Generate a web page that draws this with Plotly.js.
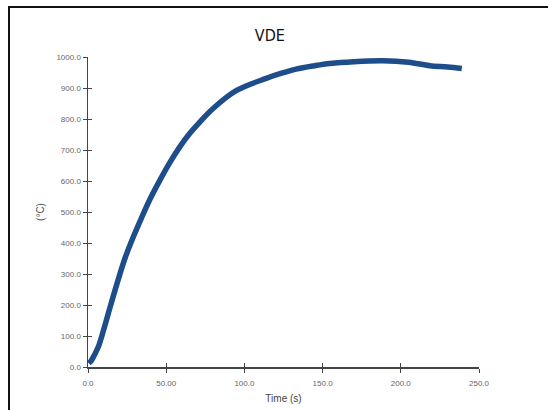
<!DOCTYPE html>
<html>
<head>
<meta charset="utf-8">
<script src="https://cdn.plot.ly/plotly-3.0.1.min.js"></script>
<style>
  html, body { margin: 0; padding: 0; background: #fff; }
  #wrap { position: relative; width: 548px; height: 410px; overflow: hidden; }
  #plot { position: absolute; left: 0; top: 0; width: 548px; height: 410px; }
  #frame { position: absolute; left: 8px; top: 6px; width: 560px; height: 420px;
           border-left: 2px solid #111; border-top: 2px solid #111; pointer-events: none; }
</style>
</head>
<body>
<div id="wrap">
  <div id="plot"></div>
  <div id="frame"></div>
</div>
<script>
// Data
const timeS = [0.5, 2, 4, 6.6, 10, 13, 18.3, 23.6, 29, 34.3, 40, 46, 52, 58.8, 65, 71.6, 80, 95, 114, 122.7, 133, 145, 154.6, 170, 188.5, 205, 218.5, 230, 239];
const tempC = [12, 20, 38, 65, 120, 173, 265, 350, 420, 482, 545, 603, 657, 711, 753, 791, 834, 892, 931, 946, 961, 972, 979, 985, 988, 983, 972, 968, 963];

const xTickVals = [0, 50, 100, 150, 200, 250];
const xTickText = ["0.0", "50.00", "100.0", "150.0", "200.0", "250.0"];
const yTickVals = [0, 100, 200, 300, 400, 500, 600, 700, 800, 900, 1000];
const yTickText = ["0.0", "100.0", "200.0", "300.0", "400.0", "500.0", "600.0", "700.0", "800.0", "900.0", "1000.0"];

const chartTitle = "VDE";
const xTitle = "Time (s)";
const yTitle = "(°C)";

const narrow = "'DejaVu Sans Condensed', 'Liberation Sans Narrow', 'Liberation Sans', Arial, sans-serif";
const plain = "'Liberation Sans', Arial, sans-serif";
const tickFont = { family: plain, size: 8, color: "#666" };

const traces = [
  {
    x: timeS, y: tempC, type: "scatter", mode: "lines",
    line: { color: "#1d4d8a", width: 5.5, shape: "spline", smoothing: 1 },
    hoverinfo: "skip", showlegend: false
  },
  // invisible trace to activate the overlay axes (inside half of the cross ticks)
  { x: [0], y: [0], xaxis: "x2", yaxis: "y2", mode: "markers",
    marker: { opacity: 0 }, hoverinfo: "skip", showlegend: false }
];

const layout = {
  width: 548, height: 410,
  margin: { l: 88, r: 69, t: 57, b: 43 },
  paper_bgcolor: "#fff", plot_bgcolor: "#fff",
  title: {
    text: chartTitle,
    font: { family: narrow, size: 16, color: "#111" },
    x: 0.465, xref: "paper", xanchor: "center",
    y: 0.913, yref: "container", yanchor: "middle"
  },
  xaxis: {
    range: [0, 250], tickvals: xTickVals, ticktext: xTickText,
    showgrid: false, zeroline: false, showline: true,
    linecolor: "#444", linewidth: 1.5,
    ticks: "outside", ticklen: 4, tickcolor: "#444", tickwidth: 1,
    ticklabelstandoff: 4,
    tickfont: tickFont,
    title: { text: xTitle, font: { family: plain, size: 10, color: "#444" }, standoff: 8 }
  },
  yaxis: {
    range: [0, 1000], tickvals: yTickVals, ticktext: yTickText,
    showgrid: false, zeroline: false, showline: true,
    linecolor: "#444", linewidth: 1.5,
    ticks: "outside", ticklen: 4, tickcolor: "#444", tickwidth: 1,
    tickfont: tickFont,
    title: { text: yTitle, font: { family: plain, size: 10, color: "#555" }, standoff: 10 }
  },
  xaxis2: {
    overlaying: "x", range: [0, 250], tickvals: xTickVals, showticklabels: false,
    showgrid: false, zeroline: false, showline: false,
    ticks: "inside", ticklen: 4, tickcolor: "#444", tickwidth: 1
  },
  yaxis2: {
    overlaying: "y", range: [0, 1000], tickvals: yTickVals, showticklabels: false,
    showgrid: false, zeroline: false, showline: false,
    ticks: "inside", ticklen: 4, tickcolor: "#444", tickwidth: 1
  }
};

Plotly.newPlot("plot", traces, layout, { staticPlot: true, displayModeBar: false });
</script>
</body>
</html>
